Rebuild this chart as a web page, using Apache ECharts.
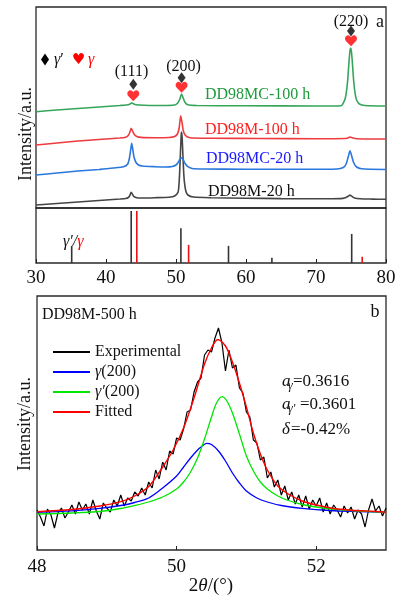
<!DOCTYPE html>
<html>
<head>
<meta charset="utf-8">
<script src="https://cdn.jsdelivr.net/npm/echarts@6/dist/echarts.min.js"></script>
<style>
html, body { margin: 0; padding: 0; background: #fff; }
#chart { width: 400px; height: 601px; }
</style>
</head>
<body>
<div id="chart"></div>
<script>
const SERIF = '"Liberation Serif", "Times New Roman", serif';

// ---- Panel a: XRD patterns, [2θ (deg), intensity (offset, a.u.)] ----
const dd98m20 = [[30,3],[32,4],[34,5],[36,6],[38,7],[40,8],[42,9],[42.8,9.5],[43.2,10.5],[43.4,12.5],[43.6,15.7],[43.8,13.5],[44.0,11.3],[44.4,10.2],[45,10],[47,10.3],[49,10.8],[49.8,12],[50.3,16],[50.45,26],[50.55,40],[50.65,58],[50.75,74],[50.8,76],[50.88,70],[50.98,54],[51.08,38],[51.2,26],[51.4,17],[51.7,13],[52.5,11],[55,10.3],[60,9.8],[65,9.4],[70,9.2],[73.5,9.4],[74.2,10.3],[74.6,11.8],[74.85,13],[75.1,11.8],[75.5,10],[76.3,9.2],[78,8.9],[80,8.7]];
const dd98mc20 = [[30,33],[33,35],[36,37],[39,38.5],[41,40],[42.5,41.2],[43.1,44],[43.35,50],[43.52,58],[43.67,64.7],[43.82,59],[44.0,51],[44.25,46],[44.6,43.3],[45.2,42],[47,41.3],[48.5,41],[49.5,41.5],[50.0,43],[50.3,45.5],[50.55,48.8],[50.8,50.3],[51.05,48],[51.3,44.5],[51.7,41.3],[52.3,39.5],[54,39],[60,38.8],[68,38.7],[73,39],[73.9,40.5],[74.3,44],[74.6,51],[74.86,57.3],[75.1,52],[75.4,45],[75.8,41],[76.5,39.3],[80,38.5]];
const dd98m100 = [[30,63],[33,65],[36,67],[39,68.5],[42,70],[42.8,70.8],[43.2,72.8],[43.4,75.5],[43.6,79.7],[43.8,77],[44.0,74],[44.4,71.5],[45,70.6],[47,70.3],[49,70.5],[49.8,71.5],[50.2,74],[50.45,80],[50.67,92.3],[50.85,86],[51.05,77],[51.35,72.5],[52,70.3],[55,69.8],[62,69.5],[70,69.3],[74.2,69.5],[74.6,70.3],[74.86,70.9],[75.2,70.2],[75.8,69.3],[80,69]];
const dd98mc100 = [[30,96.3],[33,98],[36,99.5],[39,101],[42,102.5],[43.2,103.2],[43.5,104.3],[43.7,105.3],[43.9,104.3],[44.3,103.2],[45.5,102.8],[48,102.5],[49.8,103],[50.25,105],[50.55,109],[50.78,114],[51.0,110.5],[51.25,106],[51.7,103.2],[53,102.5],[60,102.2],[70,102],[73.6,102.3],[74.1,108],[74.3,114],[74.53,128],[74.7,145],[74.85,157],[74.95,159.7],[75.05,157],[75.2,145],[75.37,128],[75.6,114],[75.8,108],[76.2,104],[77,102.5],[80,102]];

// Standard reflections (relative intensity)
const gammaPrimeRef = [[35.1,33],[43.6,100],[50.7,67],[57.5,33],[63.7,10],[75.1,56]];
const gammaRef = [[44.4,100],[51.8,35],[76.6,12]];

// Peak indicators: 2θ of (111), (200), (220) and heights of the symbols
const peakTheta = [43.9, 50.8, 75.0];
const diamondLevel = [123.7, 130.3, 177];
const heartLevel = [112.3, 120.7, 167.3];

// ---- Panel b: (200) peak of DD98M-500 h, [2θ (deg), intensity (a.u.)] ----
const experimental = [[48.00,40],[48.05,33],[48.10,24],[48.15,41],[48.20,35],[48.25,22],[48.30,37],[48.35,42],[48.40,32],[48.45,38],[48.50,45],[48.55,36],[48.60,48],[48.65,40],[48.70,46],[48.75,36],[48.80,50],[48.85,39],[48.90,31],[48.95,47],[49.00,42],[49.05,38],[49.10,50],[49.15,44],[49.20,55],[49.25,44],[49.30,52],[49.35,49],[49.40,58],[49.45,54],[49.50,62],[49.55,55],[49.60,68],[49.65,62],[49.70,80],[49.75,71],[49.80,88],[49.85,80],[49.90,99],[49.95,96],[50.00,112],[50.05,110],[50.10,121],[50.15,138],[50.20,140],[50.25,158],[50.30,168],[50.35,172],[50.40,195],[50.45,200],[50.50,198],[50.55,212],[50.60,222],[50.65,207],[50.70,179],[50.75,200],[50.80,182],[50.85,185],[50.90,162],[50.95,157],[51.00,138],[51.05,133],[51.10,110],[51.15,107],[51.20,90],[51.25,93],[51.30,72],[51.35,78],[51.40,63],[51.45,70],[51.50,55],[51.55,64],[51.60,50],[51.65,58],[51.70,46],[51.75,55],[51.80,43],[51.85,54],[51.90,41],[51.95,50],[52.00,44],[52.05,52],[52.10,38],[52.15,47],[52.20,36],[52.25,45],[52.30,40],[52.35,33],[52.40,44],[52.45,37],[52.50,43],[52.55,31],[52.60,40],[52.65,36],[52.70,23],[52.75,40],[52.80,51],[52.85,39],[52.90,44],[52.95,34],[53.00,42]];
const gammaFit = [[48.0,37.7],[48.5,39.2],[48.9,41.7],[49.2,44.5],[49.4,47.5],[49.6,52],[49.8,62],[50.0,74],[50.1,83],[50.2,92],[50.3,100],[50.35,103],[50.43,106.7],[50.5,105.5],[50.6,99],[50.7,89],[50.8,77],[50.9,67],[51.0,59],[51.15,52],[51.3,48],[51.5,44.5],[51.8,41.7],[52.2,39.5],[52.6,38.5],[53.0,37.7]];
const gammaPrimeFit = [[48.0,36],[48.5,37],[48.9,38.5],[49.2,41.5],[49.4,44.5],[49.6,48],[49.8,53],[50.0,61],[50.1,68],[50.2,78],[50.3,92],[50.4,111],[50.5,133],[50.57,146.7],[50.65,153.3],[50.72,149],[50.8,137],[50.9,116],[51.0,94],[51.1,79],[51.2,68],[51.3,61],[51.45,54],[51.6,49.5],[51.8,45.5],[52.1,42],[52.5,39.5],[53.0,37.7]];
const totalFit = [[48.0,38.3],[48.5,40.5],[48.9,44],[49.2,48.3],[49.4,54],[49.6,63.5],[49.8,83],[49.95,100],[50.1,122],[50.25,152],[50.4,186],[50.5,202],[50.59,210.5],[50.7,204],[50.8,188],[50.9,167],[51.0,143],[51.1,117],[51.2,96],[51.3,80],[51.45,64],[51.6,56],[51.8,49],[52.0,45],[52.25,41.5],[52.5,39.8],[52.75,38.9],[53.0,37.8]];

// Axis ranges
const axisA = { min: 30, max: 80, interval: 10 };
const axisB = { min: 48, max: 53, interval: 2 };

const HEART = 'path://M12,21L3,12C0,9,0,4,4,2C7,0,10,2,12,5C14,2,17,0,20,2C24,4,24,9,21,12Z';

const chart = echarts.init(document.getElementById('chart'), null, { renderer: 'canvas' });

const frame = { show: true, borderColor: '#2a2a2a', borderWidth: 1.3, backgroundColor: 'transparent' };
const tickLabel = { fontFamily: SERIF, fontSize: 19, color: '#111' };

function xrdLine(name, data, color) {
  return { name, type: 'line', xAxisIndex: 0, yAxisIndex: 0, data, showSymbol: false, symbol: 'none',
    lineStyle: { color, width: 1.6 }, smooth: 0.2, silent: true, z: 3 };
}
function fitLine(name, data, color, width, smooth, z) {
  return { name, type: 'line', xAxisIndex: 2, yAxisIndex: 2, data, symbol: 'none', showSymbol: false,
    itemStyle: { color }, lineStyle: { color, width }, smooth, silent: true, z };
}

function text(x, y, str, opt, rot) {
  return { type: 'text', x, y, silent: true, rotation: rot || 0,
    style: Object.assign({ text: str, fontFamily: SERIF, fontSize: 16, fill: '#111',
      textAlign: 'left', textVerticalAlign: 'middle' }, opt || {}) };
}

const option = {
  animation: false,
  backgroundColor: '#fff',
  grid: [
    Object.assign({ left: 36, width: 350, top: 7, height: 201 }, frame),
    Object.assign({ left: 36, width: 350, top: 208, height: 55 }, frame),
    Object.assign({ left: 37, width: 349, top: 296, height: 254 }, frame)
  ],
  xAxis: [
    { type: 'value', gridIndex: 0, min: axisA.min, max: axisA.max, interval: axisA.interval, show: false },
    { type: 'value', gridIndex: 1, min: axisA.min, max: axisA.max, interval: axisA.interval,
      axisLine: { show: false }, splitLine: { show: false },
      axisTick: { inside: true, length: 4, lineStyle: { color: '#222', width: 1 } },
      axisLabel: Object.assign({ margin: 6 }, tickLabel) },
    { type: 'value', gridIndex: 2, min: axisB.min, max: axisB.max, interval: axisB.interval,
      axisLine: { show: false }, splitLine: { show: false },
      axisTick: { inside: true, length: 4, lineStyle: { color: '#222', width: 1 } },
      axisLabel: Object.assign({ margin: 8, showMaxLabel: false }, tickLabel) }
  ],
  yAxis: [
    { type: 'value', gridIndex: 0, min: 0, max: 201, show: false },
    { type: 'value', gridIndex: 1, min: 0, max: 106, show: false },
    { type: 'value', gridIndex: 2, min: 0, max: 254, show: false }
  ],
  legend: {
    data: ['Experimental', 'γ(200)', 'γ′(200)', 'Fitted'],
    orient: 'vertical', left: 48, top: 337, itemWidth: 37, itemHeight: 2, itemGap: 0,
    icon: 'rect', selectedMode: false,
    formatter: n => n.replace(/^γ(′?)/, '{i|γ$1}'),
    textStyle: { fontFamily: SERIF, fontSize: 16, color: '#111', lineHeight: 20,
      rich: { i: { fontFamily: SERIF, fontSize: 16, fontStyle: 'italic', color: '#111' } } }
  },
  series: [
    xrdLine('DD98M-20 h', dd98m20, '#454545'),
    xrdLine('DD98MC-20 h', dd98mc20, '#2a78dc'),
    xrdLine('DD98M-100 h', dd98m100, '#ee3b3f'),
    xrdLine('DD98MC-100 h', dd98mc100, '#35a55a'),
    { type: 'scatter', xAxisIndex: 0, yAxisIndex: 0, symbol: 'diamond', symbolSize: [8, 11],
      itemStyle: { color: '#000' }, silent: true, z: 5,
      data: peakTheta.map((t, i) => [t, diamondLevel[i]]) },
    { type: 'scatter', xAxisIndex: 0, yAxisIndex: 0, symbol: HEART, symbolSize: [12, 11],
      itemStyle: { color: '#ff0000' }, silent: true, z: 5,
      data: peakTheta.map((t, i) => [t, heartLevel[i]]) },
    { name: "γ′ ref", type: 'bar', xAxisIndex: 1, yAxisIndex: 1, data: gammaPrimeRef,
      barWidth: 1.6, barGap: '-100%', itemStyle: { color: '#333' }, silent: true },
    { name: 'γ ref', type: 'bar', xAxisIndex: 1, yAxisIndex: 1, data: gammaRef,
      barWidth: 1.6, barGap: '-100%', itemStyle: { color: '#ee1111' }, silent: true },
    fitLine('Experimental', experimental, '#000', 1.2, false, 3),
    fitLine('γ(200)', gammaFit, '#0000ff', 1.3, 0.3, 4),
    fitLine('γ′(200)', gammaPrimeFit, '#00e600', 1.3, 0.3, 4),
    fitLine('Fitted', totalFit, '#ff0000', 1.4, 0.3, 5)
  ],
  graphic: [
    // phase key: diamond = γ′, heart = γ
    { type: 'polygon', shape: { points: [[45, 53.5], [49, 59.5], [45, 65.5], [41, 59.5]] }, style: { fill: '#000' }, silent: true },
    text(54, 60, '{i|γ}′', { rich: { i: { fontFamily: SERIF, fontSize: 16, fontStyle: 'italic', fill: '#111' } } }),
    text(78.5, 60, '♥', { textAlign: 'center', fill: '#ff0000', fontSize: 15, fontFamily: '"DejaVu Sans", sans-serif' }),
    text(88, 60, 'γ', { fontStyle: 'italic', fill: '#ff0000' }),
    // reflection indices
    text(131.5, 72, '(111)', { textAlign: 'center' }),
    text(183.5, 67, '(200)', { textAlign: 'center' }),
    text(351, 22, '(220)', { textAlign: 'center' }),
    text(380, 22, 'a', { textAlign: 'center', fontSize: 18 }),
    // pattern labels
    text(205, 95, 'DD98MC-100 h', { fill: '#1e9a3c' }),
    text(205, 129.5, 'DD98M-100 h', { fill: '#ff2020' }),
    text(206, 158.5, 'DD98MC-20 h', { fill: '#1a1aff' }),
    text(208, 192, 'DD98M-20 h', { fill: '#111' }),
    text(63, 242, '{k|γ′/}{r|γ}', { rich: {
      k: { fontFamily: SERIF, fontSize: 16, fontStyle: 'italic', fill: '#111' },
      r: { fontFamily: SERIF, fontSize: 16, fontStyle: 'italic', fill: '#ff0000' } } }),
    text(26, 134, 'Intensity/a.u.', { textAlign: 'center', fontSize: 18 }, Math.PI / 2),
    // panel b labels
    text(42, 315, 'DD98M-500 h'),
    text(375, 312, 'b', { textAlign: 'center', fontSize: 18 }),
    text(282, 382, 'a', { fontStyle: 'italic', fontSize: 17 }),
    text(288, 386, 'γ', { fontStyle: 'italic', fontSize: 12 }),
    text(293, 382, '=0.3616', { fontSize: 17 }),
    text(282, 405, 'a', { fontStyle: 'italic', fontSize: 17 }),
    text(288, 409, 'γ′', { fontStyle: 'italic', fontSize: 12 }),
    text(300, 405, '=0.3601', { fontSize: 17 }),
    text(282, 430, 'δ', { fontStyle: 'italic', fontSize: 17 }),
    text(291, 430, '=-0.42%', { fontSize: 17 }),
    text(25, 424, 'Intensity/a.u.', { textAlign: 'center', fontSize: 18 }, Math.PI / 2),
    text(211, 586, '2{i|θ}/(°)', { textAlign: 'center', fontSize: 19,
      rich: { i: { fontFamily: SERIF, fontSize: 19, fontStyle: 'italic', fill: '#111' } } })
  ]
};

chart.setOption(option);
</script>
</body>
</html>
